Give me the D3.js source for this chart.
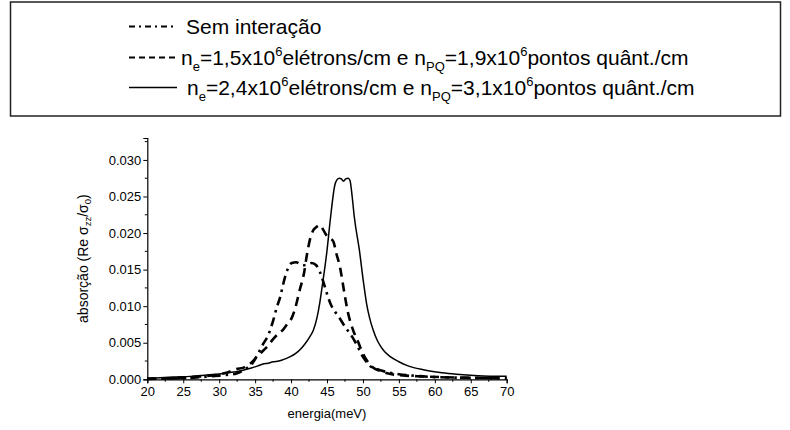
<!DOCTYPE html>
<html>
<head>
<meta charset="utf-8">
<script src="https://cdn.jsdelivr.net/npm/d3@7"></script>
<style>
  html, body { margin: 0; padding: 0; background: #fff; }
  svg { display: block; font-family: "Liberation Sans", Arial, sans-serif; }
</style>
</head>
<body>
<svg id="chart" width="790" height="430"></svg>
<script>
// Energy axis ticks and absorption axis ticks
const xTicks = [20, 25, 30, 35, 40, 45, 50, 55, 60, 65, 70];
const yTicks = [0.000, 0.005, 0.010, 0.015, 0.020, 0.025, 0.030];

// Sem interação (dash-dot)
const semE = [20, 22.5, 25, 27.5, 30, 31, 32.4, 33.8, 34.7, 35.4, 36.1, 36.8, 37.5, 38.0, 38.5, 38.9, 39.5, 40.1, 40.7, 41.2, 41.7, 42.3, 42.9, 43.5, 44.0, 44.5, 45.0, 45.5, 46.0, 46.6, 47.3, 48.0, 48.7, 49.2, 49.8, 50.4, 51.0, 51.9, 53.3, 55, 57, 60, 65, 70];
const semA = [0.00005, 0.0001, 0.00015, 0.0003, 0.0005, 0.0006, 0.0008, 0.0015, 0.0023, 0.0035, 0.0048, 0.0060, 0.0080, 0.0098, 0.0113, 0.0130, 0.0150, 0.0159, 0.0160, 0.0158, 0.0156, 0.0157, 0.0159, 0.0156, 0.0147, 0.0133, 0.0117, 0.0103, 0.0094, 0.0086, 0.0075, 0.0065, 0.0055, 0.0046, 0.0034, 0.0025, 0.0018, 0.0014, 0.0010, 0.0007, 0.0005, 0.0003, 0.0002, 0.00012];

// n_e = 1,5x10^6 (dashed)
const n15E = [20, 22.5, 25, 27.5, 29.6, 31.0, 32.4, 33.4, 34.4, 35.2, 36.1, 36.8, 37.5, 38.2, 38.9, 39.5, 40.1, 40.6, 41.2, 41.8, 42.2, 42.6, 43.1, 43.5, 44.0, 44.5, 45.0, 45.4, 45.9, 46.3, 46.8, 47.2, 47.5, 47.9, 48.6, 49.3, 50.0, 50.6, 51.4, 52.5, 54, 56, 58, 61, 65, 70];
const n15A = [0.0001, 0.0001, 0.0002, 0.0004, 0.0006, 0.0009, 0.0014, 0.0016, 0.0022, 0.0030, 0.0039, 0.0046, 0.0055, 0.0062, 0.0068, 0.0076, 0.0084, 0.0098, 0.0122, 0.0145, 0.0170, 0.0190, 0.0204, 0.0208, 0.0211, 0.0204, 0.0196, 0.0193, 0.0188, 0.0172, 0.0154, 0.0131, 0.0113, 0.0092, 0.0068, 0.0052, 0.0035, 0.0025, 0.0016, 0.0011, 0.0007, 0.0005, 0.0004, 0.0003, 0.0002, 0.00014];

// n_e = 2,4x10^6 (solid)
const n24E = [20, 23.6, 26, 28.3, 30.6, 32.0, 33.2, 34.3, 35.3, 36.1, 36.8, 37.5, 38.3, 39.2, 39.9, 40.6, 41.2, 41.9, 42.6, 43.1, 43.6, 44.0, 44.3, 45.0, 45.5, 46.1, 46.4, 46.7, 47.0, 47.3, 47.6, 47.95, 48.2, 48.5, 48.8, 49.5, 50.1, 50.5, 50.9, 51.4, 52.0, 52.4, 53.0, 53.8, 55.0, 56.1, 58.4, 61, 63, 66, 70];
const n24A = [0.0001, 0.0003, 0.0004, 0.0006, 0.0008, 0.0010, 0.0012, 0.0015, 0.0018, 0.0021, 0.0022, 0.0024, 0.0025, 0.0028, 0.0031, 0.0035, 0.0040, 0.0048, 0.0058, 0.0067, 0.0084, 0.0105, 0.0125, 0.0176, 0.0222, 0.0266, 0.0273, 0.0275, 0.0274, 0.0271, 0.0274, 0.0275, 0.0272, 0.0250, 0.0222, 0.0177, 0.0131, 0.0104, 0.0085, 0.0068, 0.0053, 0.0046, 0.0038, 0.0031, 0.0024, 0.0019, 0.0013, 0.0009, 0.0007, 0.0005, 0.0004];

const svg = d3.select("#chart");
const plotL = 147.3, plotR = 506.7, plotT = 138, plotB = 379.3;

const x = d3.scaleLinear().domain([20, 70]).range([plotL, plotR]);
const y = d3.scaleLinear().domain([0, 0.033]).range([plotB, plotT]);

// Legend frame
svg.append("rect")
  .attr("x", 10.5).attr("y", 2).attr("width", 770).attr("height", 114)
  .attr("fill", "none").attr("stroke", "#222").attr("stroke-width", 1.5);

const series = [
  { e: semE, a: semA, dash: "9,5,2.5,5", width: 2.6, legDash: "6,4,2,4", legWidth: 2 },
  { e: n15E, a: n15A, dash: "9,6", width: 2.6, legDash: "6,4", legWidth: 2 },
  { e: n24E, a: n24A, dash: null, width: 1.5, legDash: null, legWidth: 1.3 }
];

// Axes
const xAxis = d3.axisBottom(x).tickValues(xTicks).tickSize(4).tickPadding(3).tickFormat(d3.format("d"));
const yAxis = d3.axisLeft(y).tickValues(yTicks).tickSize(4).tickPadding(2).tickFormat(d3.format(".3f"));

const gx = svg.append("g").attr("transform", `translate(0,${plotB})`).call(xAxis);
const gy = svg.append("g").attr("transform", `translate(${plotL},0)`).call(yAxis);

// Minor ticks
const xMinor = d3.range(22.5, 70, 5);
const yMinor = d3.range(0.0025, 0.033, 0.005);
gx.selectAll(".minor").data(xMinor).enter().append("line")
  .attr("x1", d => x(d)).attr("x2", d => x(d)).attr("y1", 0).attr("y2", 2.5)
  .attr("stroke", "#000");
gy.selectAll(".minor").data(yMinor).enter().append("line")
  .attr("y1", d => y(d)).attr("y2", d => y(d)).attr("x1", 0).attr("x2", -2.5)
  .attr("stroke", "#000");

[gx, gy].forEach(g => {
  g.select(".domain").attr("stroke", "#000").attr("stroke-width", 1.2);
  g.selectAll(".tick line").attr("stroke", "#000");
  g.selectAll("text").attr("font-size", 13).attr("fill", "#000")
    .attr("font-family", "'Liberation Sans', Arial, sans-serif");
});

// Curves
const line = d3.line().x(d => x(d[0])).y(d => y(d[1])).curve(d3.curveMonotoneX);
series.forEach(s => {
  const pts = s.e.map((v, i) => [v, s.a[i]]);
  svg.append("path").datum(pts)
    .attr("d", line)
    .attr("fill", "none").attr("stroke", "#000")
    .attr("stroke-width", s.width)
    .attr("stroke-dasharray", s.dash)
    .attr("stroke-linejoin", "round");
});

// Axis titles
const yt = svg.append("text")
  .attr("transform", `translate(88,${(plotT + plotB) / 2}) rotate(-90)`)
  .attr("text-anchor", "middle").attr("font-size", 14);
yt.append("tspan").text("absorção (Re σ");
yt.append("tspan").attr("font-size", 9.5).attr("dy", 3).text("zz");
yt.append("tspan").attr("dy", -3).text("/σ");
yt.append("tspan").attr("font-size", 9.5).attr("dy", 3).text("0");
yt.append("tspan").attr("dy", -3).text(")");

svg.append("text")
  .attr("x", (plotL + plotR) / 2).attr("y", 418)
  .attr("text-anchor", "middle").attr("font-size", 13)
  .text("energia(meV)");

// Legend entries
const legRows = [
  { yb: 34, tx: 186, parts: [["Sem interação", 0]] },
  { yb: 65, tx: 181, parts: [["n", 0], ["e", 1], ["=1,5x10", 0], ["6", -1], ["elétrons/cm e n", 0], ["PQ", 1], ["=1,9x10", 0], ["6", -1], ["pontos quânt./cm", 0]] },
  { yb: 95, tx: 187, parts: [["n", 0], ["e", 1], ["=2,4x10", 0], ["6", -1], ["elétrons/cm e n", 0], ["PQ", 1], ["=3,1x10", 0], ["6", -1], ["pontos quânt./cm", 0]] }
];

legRows.forEach((r, i) => {
  const s = series[i];
  svg.append("line")
    .attr("x1", 129).attr("x2", 177)
    .attr("y1", r.yb - 7.5).attr("y2", r.yb - 7.5)
    .attr("stroke", "#000").attr("stroke-width", s.legWidth)
    .attr("stroke-dasharray", s.legDash);
  const t = svg.append("text").attr("x", r.tx).attr("y", r.yb).attr("font-size", 21);
  let shift = 0;
  r.parts.forEach(([str, kind]) => {
    const target = kind === 1 ? 6 : kind === -1 ? -9 : 0;
    const ts = t.append("tspan").attr("dy", target - shift).text(str);
    if (kind !== 0) ts.attr("font-size", 13);
    shift = target;
  });
});
</script>
</body>
</html>
